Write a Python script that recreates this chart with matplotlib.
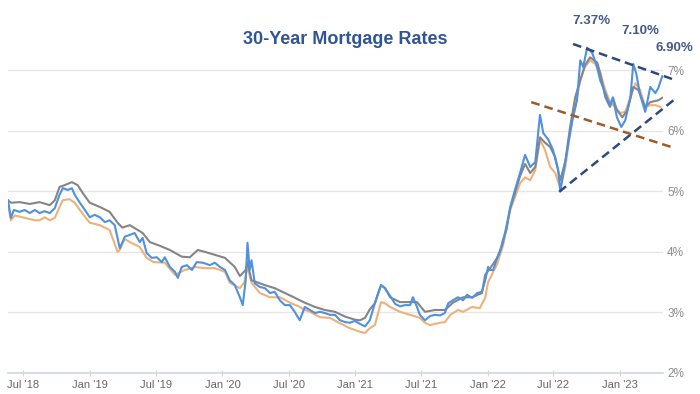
import matplotlib
matplotlib.use("Agg")
import matplotlib.pyplot as plt
import pandas as pd

plt.rcParams['font.family'] = ['Liberation Sans Narrow', 'Liberation Sans', 'DejaVu Sans']

# daily index (blue)
blue_dates = ['2018-05-20', '2018-05-28', '2018-06-05', '2018-06-21', '2018-07-05', '2018-07-19',
              '2018-08-02', '2018-08-15', '2018-08-29', '2018-09-12', '2018-09-26', '2018-10-09',
              '2018-10-18', '2018-11-01', '2018-11-12', '2018-11-20', '2018-12-04', '2018-12-18',
              '2018-12-31', '2019-01-14', '2019-01-28', '2019-02-11', '2019-02-24', '2019-03-10',
              '2019-03-24', '2019-04-07', '2019-04-21', '2019-05-04', '2019-05-18', '2019-05-26',
              '2019-06-06', '2019-06-20', '2019-07-04', '2019-07-18', '2019-07-26', '2019-08-09',
              '2019-08-23', '2019-08-31', '2019-09-11', '2019-09-25', '2019-10-09', '2019-10-22',
              '2019-11-08', '2019-11-27', '2019-12-11', '2019-12-25', '2020-01-08', '2020-01-21',
              '2020-02-04', '2020-02-18', '2020-02-26', '2020-03-05', '2020-03-10', '2020-03-16',
              '2020-03-21', '2020-03-30', '2020-04-13', '2020-04-27', '2020-05-11', '2020-05-24',
              '2020-06-07', '2020-06-21', '2020-07-05', '2020-07-19', '2020-08-01', '2020-08-15',
              '2020-08-29', '2020-09-12', '2020-09-26', '2020-10-09', '2020-10-23', '2020-11-06',
              '2020-11-20', '2020-12-04', '2020-12-17', '2020-12-31', '2021-01-14', '2021-01-28',
              '2021-02-10', '2021-02-24', '2021-03-05', '2021-03-13', '2021-03-24', '2021-04-07',
              '2021-04-21', '2021-05-04', '2021-05-18', '2021-06-01', '2021-06-09', '2021-06-20',
              '2021-06-28', '2021-07-12', '2021-07-26', '2021-08-09', '2021-08-23', '2021-09-05',
              '2021-09-14', '2021-09-27', '2021-10-11', '2021-10-25', '2021-11-05', '2021-11-19',
              '2021-12-03', '2021-12-16', '2021-12-25', '2022-01-02', '2022-01-08', '2022-01-16',
              '2022-01-27', '2022-02-04', '2022-02-12', '2022-02-21', '2022-03-04', '2022-03-17',
              '2022-03-31', '2022-04-14', '2022-04-28', '2022-05-12', '2022-05-25', '2022-06-03',
              '2022-06-17', '2022-06-30', '2022-07-14', '2022-07-20', '2022-07-25', '2022-08-08',
              '2022-08-22', '2022-09-04', '2022-09-13', '2022-09-21', '2022-10-02', '2022-10-16',
              '2022-10-27', '2022-11-07', '2022-11-21', '2022-12-04', '2022-12-12', '2022-12-23',
              '2023-01-04', '2023-01-15', '2023-01-29', '2023-02-06', '2023-02-14', '2023-02-25',
              '2023-03-11', '2023-03-25', '2023-04-08', '2023-04-16', '2023-04-27']
blue_rates = [4.85, 4.56, 4.69, 4.66, 4.69, 4.64,
              4.69, 4.64, 4.67, 4.64, 4.72, 4.94,
              5.05, 5.02, 5.05, 4.94, 4.81, 4.69,
              4.57, 4.61, 4.57, 4.49, 4.52, 4.44,
              4.06, 4.25, 4.28, 4.31, 4.16, 4.23,
              3.98, 3.90, 3.91, 3.83, 3.91, 3.75,
              3.67, 3.57, 3.75, 3.78, 3.70, 3.83,
              3.82, 3.78, 3.82, 3.75, 3.70, 3.53,
              3.45, 3.25, 3.12, 3.53, 4.15, 3.70,
              3.86, 3.48, 3.42, 3.40, 3.32, 3.34,
              3.20, 3.12, 3.12, 3.00, 2.87, 3.09,
              3.04, 2.99, 3.01, 2.99, 2.96, 2.96,
              2.87, 2.84, 2.83, 2.86, 2.81, 2.77,
              2.87, 3.15, 3.32, 3.45, 3.40, 3.27,
              3.14, 3.10, 3.12, 3.12, 3.25, 3.09,
              2.96, 2.87, 2.94, 2.96, 2.95, 2.99,
              3.15, 3.20, 3.25, 3.20, 3.29, 3.24,
              3.32, 3.34, 3.53, 3.75, 3.70, 3.70,
              3.90, 4.00, 4.20, 4.35, 4.74, 5.02,
              5.30, 5.60, 5.40, 5.48, 6.26, 5.96,
              5.85, 5.68, 5.35, 5.00, 5.18, 5.68,
              6.17, 6.50, 7.16, 7.05, 7.37, 7.28,
              7.10, 6.83, 6.62, 6.42, 6.55, 6.22,
              6.06, 6.17, 6.54, 7.10, 6.95, 6.59,
              6.31, 6.72, 6.62, 6.70, 6.90]

# orange series
orange_dates = ['2018-05-20', '2018-05-28', '2018-06-08', '2018-07-05', '2018-08-02', '2018-08-15',
                '2018-08-29', '2018-09-12', '2018-09-26', '2018-10-09', '2018-10-18', '2018-11-05',
                '2018-11-20', '2018-12-04', '2018-12-31', '2019-01-28', '2019-02-24', '2019-03-18',
                '2019-03-24', '2019-04-07', '2019-04-21', '2019-05-18', '2019-06-06', '2019-06-25',
                '2019-07-26', '2019-08-23', '2019-09-19', '2019-10-17', '2019-11-13', '2019-12-11',
                '2020-01-08', '2020-01-21', '2020-02-18', '2020-03-01', '2020-03-10', '2020-03-21',
                '2020-04-13', '2020-05-11', '2020-06-07', '2020-07-05', '2020-08-01', '2020-08-15',
                '2020-08-29', '2020-09-26', '2020-10-23', '2020-11-20', '2020-12-17', '2021-01-14',
                '2021-01-28', '2021-02-10', '2021-02-24', '2021-03-05', '2021-03-13', '2021-03-24',
                '2021-04-07', '2021-05-04', '2021-06-01', '2021-06-28', '2021-07-12', '2021-07-26',
                '2021-08-23', '2021-09-05', '2021-09-20', '2021-10-11', '2021-10-25', '2021-11-19',
                '2021-12-10', '2021-12-25', '2022-01-02', '2022-01-08', '2022-01-27', '2022-02-12',
                '2022-03-04', '2022-03-17', '2022-03-31', '2022-04-14', '2022-04-28', '2022-05-12',
                '2022-05-25', '2022-06-08', '2022-06-22', '2022-07-06', '2022-07-20', '2022-08-03',
                '2022-08-16', '2022-08-30', '2022-09-13', '2022-09-26', '2022-10-10', '2022-10-24',
                '2022-11-07', '2022-11-21', '2022-12-04', '2022-12-18', '2023-01-01', '2023-01-15',
                '2023-01-29', '2023-02-12', '2023-02-25', '2023-03-11', '2023-03-25', '2023-04-08',
                '2023-04-22']
orange_rates = [4.77, 4.52, 4.60, 4.56, 4.52, 4.52,
                4.57, 4.52, 4.56, 4.74, 4.85, 4.87,
                4.81, 4.69, 4.48, 4.44, 4.36, 4.00,
                4.03, 4.21, 4.16, 4.08, 3.90, 3.83,
                3.82, 3.62, 3.70, 3.75, 3.73, 3.73,
                3.67, 3.49, 3.40, 3.49, 3.75, 3.49,
                3.32, 3.25, 3.25, 3.16, 3.09, 3.04,
                3.01, 2.92, 2.91, 2.82, 2.74, 2.68,
                2.66, 2.74, 2.79, 2.99, 3.17, 3.15,
                3.09, 3.01, 2.96, 2.91, 2.83, 2.79,
                2.83, 2.84, 2.96, 3.04, 3.01, 3.09,
                3.07, 3.24, 3.50, 3.57, 3.80, 4.10,
                4.69, 4.90, 5.13, 5.23, 5.18, 5.35,
                5.85, 5.68, 5.40, 5.30, 5.05, 5.40,
                5.96, 6.39, 6.83, 7.05, 7.16, 7.10,
                6.95, 6.67, 6.47, 6.39, 6.29, 6.31,
                6.55, 6.78, 6.67, 6.39, 6.42, 6.42,
                6.39]

# weekly series (gray)
gray_dates = ['2018-05-20', '2018-05-28', '2018-06-21', '2018-07-19', '2018-08-15', '2018-09-12',
              '2018-09-26', '2018-10-09', '2018-10-23', '2018-11-12', '2018-11-28', '2018-12-12',
              '2018-12-31', '2019-01-28', '2019-02-24', '2019-03-18', '2019-03-31', '2019-04-21',
              '2019-05-26', '2019-06-15', '2019-07-12', '2019-08-09', '2019-09-11', '2019-10-03',
              '2019-10-25', '2019-11-13', '2019-12-11', '2020-01-08', '2020-02-04', '2020-02-18',
              '2020-03-05', '2020-03-10', '2020-03-21', '2020-04-27', '2020-05-24', '2020-06-21',
              '2020-07-19', '2020-08-15', '2020-09-12', '2020-10-09', '2020-11-06', '2020-12-04',
              '2020-12-31', '2021-01-14', '2021-01-28', '2021-02-10', '2021-02-24', '2021-03-13',
              '2021-03-24', '2021-04-07', '2021-05-04', '2021-06-01', '2021-06-20', '2021-07-12',
              '2021-08-09', '2021-09-05', '2021-09-27', '2021-10-25', '2021-11-19', '2021-12-16',
              '2021-12-25', '2022-01-08', '2022-01-27', '2022-02-12', '2022-03-04', '2022-03-17',
              '2022-03-31', '2022-04-14', '2022-04-28', '2022-05-12', '2022-05-25', '2022-06-08',
              '2022-06-22', '2022-07-06', '2022-07-20', '2022-08-03', '2022-08-16', '2022-08-30',
              '2022-09-13', '2022-09-26', '2022-10-10', '2022-10-30', '2022-11-07', '2022-11-21',
              '2022-12-04', '2022-12-12', '2022-12-23', '2023-01-07', '2023-01-21', '2023-02-06',
              '2023-02-20', '2023-03-11', '2023-03-25', '2023-04-16', '2023-04-27']
gray_rates = [4.85, 4.81, 4.82, 4.79, 4.82, 4.77,
              4.85, 5.07, 5.10, 5.15, 5.10, 4.97,
              4.81, 4.74, 4.66, 4.48, 4.40, 4.44,
              4.31, 4.16, 4.10, 4.03, 3.92, 3.91,
              4.03, 4.00, 3.95, 3.90, 3.75, 3.60,
              3.70, 3.83, 3.53, 3.45, 3.40, 3.32,
              3.24, 3.16, 3.09, 3.04, 3.01, 2.93,
              2.88, 2.87, 2.91, 3.05, 3.15, 3.45,
              3.40, 3.25, 3.17, 3.17, 3.17, 3.01,
              3.04, 3.04, 3.16, 3.25, 3.25, 3.32,
              3.62, 3.73, 3.90, 4.15, 4.72, 4.97,
              5.25, 5.45, 5.30, 5.40, 5.89, 5.80,
              5.73, 5.56, 5.18, 5.50, 6.06, 6.55,
              6.83, 7.08, 7.21, 7.12, 6.95, 6.55,
              6.39, 6.54, 6.34, 6.22, 6.34, 6.72,
              6.67, 6.39, 6.47, 6.50, 6.54]

# channel / trend lines drawn on top
upper_line = (['2022-08-24', '2023-06-01'], [7.43, 6.835])
lower_line = (['2022-07-17', '2023-06-07'], [4.99, 6.55])
support_line = (['2022-05-01', '2023-06-01'], [6.47, 5.71])

# callouts
call_dates = ['2022-10-02', '2023-02-06', '2023-04-27']
call_values = [7.37, 7.10, 6.90]
call_offsets = [(3, 19), (5, 24), (9, 20)]

tick_dates = pd.date_range('2018-07-01', '2023-01-01', freq='6MS')
y_ticks = [2, 3, 4, 5, 6, 7]

fig = plt.figure(figsize=(7, 3.94), dpi=100)
ax = fig.add_axes([8 / 700, 0.0533, 655 / 700, 0.9074])

ax.plot(pd.to_datetime(orange_dates), orange_rates, color='#EDB27A', lw=1.5, zorder=2)
ax.plot(pd.to_datetime(gray_dates), gray_rates, color='#858585', lw=1.5, zorder=3)
ax.plot(pd.to_datetime(blue_dates), blue_rates, color='#4F91DE', lw=1.5, zorder=4)

for (d, v), c in [(upper_line, '#2E4A7D'), (lower_line, '#2E4A7D'), (support_line, '#9C5B2A')]:
    ax.plot(pd.to_datetime(d), v, color=c, lw=1.8, ls=(0, (3.5, 2)), zorder=5, clip_on=False)

for d, v, off in zip(call_dates, call_values, call_offsets):
    ax.annotate(f'{v:.2f}%', xy=(pd.Timestamp(d), v), xytext=off, textcoords='offset points',
                ha='center', va='center', fontsize=9.5, fontweight='bold', color='#44598A',
                annotation_clip=False)

ax.set_xlim(pd.Timestamp('2018-05-20'), pd.Timestamp('2023-04-29'))
ax.set_ylim(2, 7.9)

ax.set_xticks(tick_dates)
ax.set_xticklabels([d.strftime("%b '%y") for d in tick_dates])
ax.set_yticks(y_ticks)
ax.set_yticklabels([f'{t}%' for t in y_ticks])

ax.yaxis.tick_right()
ax.tick_params(axis='y', length=0, pad=3, labelsize=8.5, labelcolor='#8A8A8A')
ax.tick_params(axis='x', length=4, direction='inout', color='#CCD6EB', pad=3,
               labelsize=8, labelcolor='#666666')
ax.grid(axis='y', color='#E6E6E6', lw=1)
ax.set_axisbelow(True)

for s in ['top', 'right', 'left']:
    ax.spines[s].set_visible(False)
ax.spines['bottom'].set_color('#CCD6EB')
ax.spines['bottom'].set_linewidth(1.2)

fig.text(345 / 700, 1 - 40 / 394, '30-Year Mortgage Rates', ha='center', va='center',
         fontsize=13, fontweight='bold', color='#2F5597')

fig.savefig('out.png', dpi=100)
